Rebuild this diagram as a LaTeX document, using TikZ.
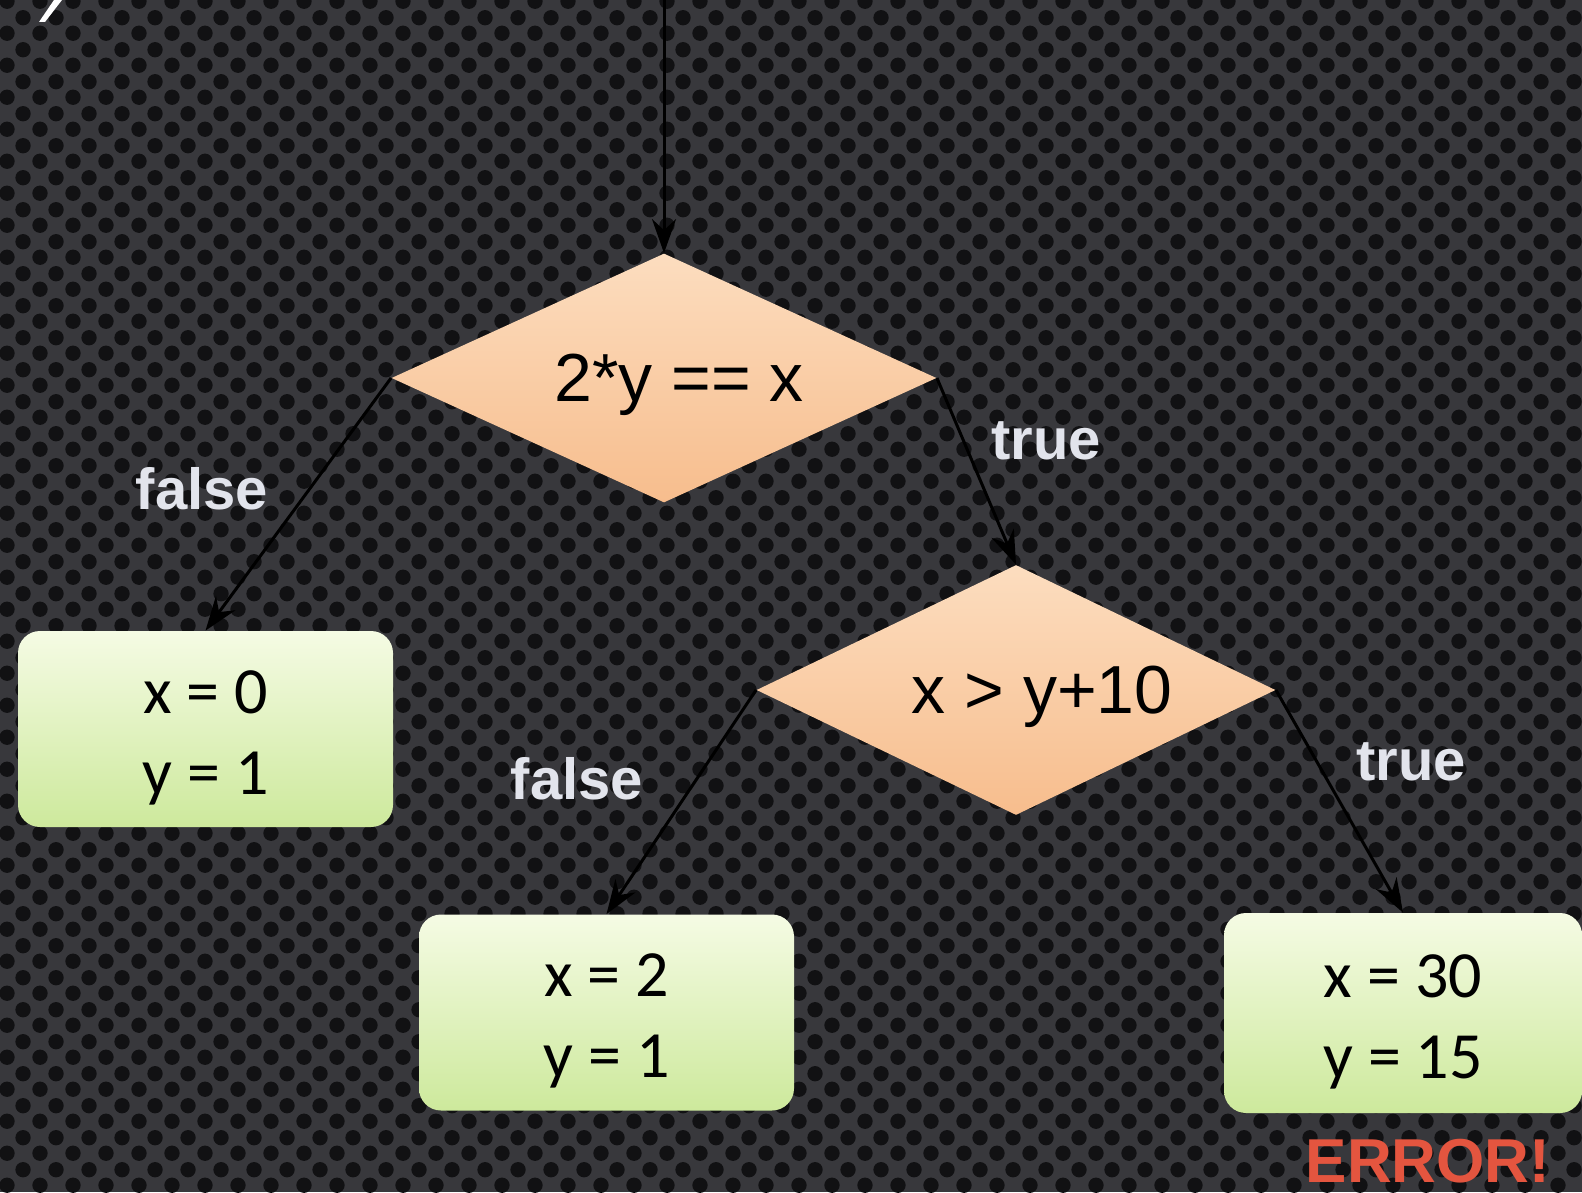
\documentclass[tikz,border=0pt]{standalone}
\usepackage{fontspec}
\setmainfont{Liberation Sans}
\newfontfamily\boxfont{Carlito}
\usetikzlibrary{shapes.geometric, arrows.meta, patterns}
\definecolor{bgGrey}{HTML}{38383C}
\definecolor{holeDark}{HTML}{111113}
\definecolor{peachTop}{HTML}{FCDDBF}
\definecolor{peachBottom}{HTML}{F7BD8D}
\definecolor{limeTop}{HTML}{F5FBE4}
\definecolor{limeBottom}{HTML}{CDE99C}
\definecolor{labelSilver}{HTML}{E2E4EC}
\definecolor{errorRed}{HTML}{E4553F}
\newcommand{\topgap}{\rule{0pt}{30pt}}

\pgfdeclarepatternformonly{holes}{\pgfqpoint{0pt}{0pt}}{\pgfqpoint{16.5pt}{16pt}}{\pgfqpoint{16.5pt}{16pt}}{%
  \pgfpathcircle{\pgfqpoint{4.125pt}{4pt}}{3.95pt}%
  \pgfpathcircle{\pgfqpoint{12.375pt}{12pt}}{3.95pt}%
  \pgfusepath{fill}}

\begin{document}
\begin{tikzpicture}[
        x=0.5pt, y=-0.5pt,
        decision/.style={diamond, aspect=2.19, inner sep=0pt, text depth=0pt, top color=peachTop, bottom color=peachBottom, font=\fontsize{34}{40}\selectfont},
        result/.style={rounded corners=11pt, inner sep=0pt, align=center, top color=limeTop, bottom color=limeBottom, font=\boxfont\fontsize{33}{40.5}\selectfont, minimum width=187.5pt, minimum height=98pt},
        branch/.style={font=\bfseries\fontsize{29}{30}\selectfont, text=labelSilver},
        flow/.style={draw=black, line width=1.5pt, -{Stealth[length=17pt, width=12pt]}}
      ]
        \useasboundingbox (0,0) rectangle (1582,1192);
        \clip (0,0) rectangle (1582,1192);

        % Perforated backdrop
        \fill[bgGrey] (0,0) rectangle (1582,1192);
        \fill[pattern=holes, pattern color=holeDark] (0,0) rectangle (1582,1192);

        % Tail of a cut-off title letter
        \fill[white] (54,0) -- (62,0) -- (45,22) -- (39,22) -- cycle;

        % Decisions
        \node[decision, minimum width=272.5pt, minimum height=124.5pt] (cond1) at (664,378) {\hspace*{15pt}2*y == x};
        \node[decision, minimum width=259.5pt, minimum height=125pt] (cond2) at (1016,690) {\hspace*{26pt}x > y+10};

        % Outcomes
        \node[result] (out1) at (205.5,729) {\topgap x = 0\\y = 1};
        \node[result] (out2) at (606.5,1012.5) {\topgap x = 2\\y = 1};
        \node[result, minimum width=179pt, minimum height=100pt] (out3) at (1403,1013) {\topgap x = 30\\y = 15};

        % Branch labels
        \node[branch] (no1) at (202,489) {false};
        \node[branch] (yes1) at (1046,441) {true};
        \node[branch] (no2) at (577,779) {false};
        \node[branch] (yes2) at (1411,762) {true};

        \node[anchor=base, inner sep=0pt, text=errorRed, font=\bfseries\fontsize{31}{31}\selectfont] (err) at (1428,1182) {ERROR!};

        % Connectors
        \coordinate (entry) at (664,0);
        \draw[flow] (entry) -- (cond1.north);
        \draw[flow] (cond1.west) -- (out1.north);
        \draw[flow] (cond1.east) -- (cond2.north);
        \draw[flow] (cond2.west) -- (out2.north);
        \draw[flow] (cond2.east) -- (out3.north);
      \end{tikzpicture}
\end{document}
